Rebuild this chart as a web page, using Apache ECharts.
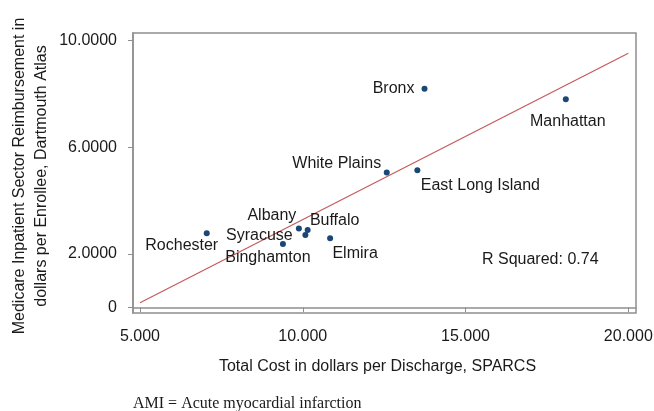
<!DOCTYPE html>
<html>
<head>
<meta charset="utf-8">
<script src="https://cdn.jsdelivr.net/npm/echarts@6/dist/echarts.min.js"></script>
<style>
  html, body { margin: 0; padding: 0; background: #fff; }
  #chart { width: 654px; height: 411px; }
</style>
</head>
<body>
<div id="chart"></div>
<script>
// hospital referral regions, cost per discharge vs reimbursement per enrollee (dollars)
var regions = ['Rochester', 'Albany', 'Buffalo', 'Syracuse', 'Binghamton', 'Elmira',
  'White Plains', 'East Long Island', 'Bronx', 'Manhattan']
var costPerDischarge = [7050, 9880, 10150, 10080, 9390, 10840, 12580, 13520, 13740, 18080]
var reimbursement = [2780, 2960, 2900, 2710, 2370, 2590, 5060, 5140, 8200, 7800]

// fitted regression line end points
var fitX = [5000, 20000]
var fitY = [170, 9530]

var xTicks = [5000, 10000, 15000, 20000]
var yTicks = [0, 2000, 6000, 10000]

// label offset from each dot (label centre - dot centre, px)
var labelOffset = {
  'Rochester': [-25, 12],
  'Albany': [-27, -13],
  'Buffalo': [27, -9],
  'Syracuse': [-46, 1],
  'Binghamton': [-15, 13],
  'Elmira': [25, 15],
  'White Plains': [-50, -9],
  'East Long Island': [63, 15],
  'Bronx': [-31, 0],
  'Manhattan': [2, 22]
}

var font = 'Liberation Sans, Arial, sans-serif'
var textColor = '#1a1a1a'
var frameColor = '#8f8f8f'

var points = regions.map(function (name, i) {
  return { name: name, value: [costPerDischarge[i], reimbursement[i]] }
})

var fitLine = fitX.map(function (x, i) {
  return [x, fitY[i]]
})

var chart = echarts.init(document.getElementById('chart'), null, { renderer: 'canvas' })

chart.setOption({
  animation: false,
  backgroundColor: '#fff',
  textStyle: { fontFamily: font },
  grid: {
    left: 133,
    top: 33,
    right: 18,
    bottom: 98,
    outerBoundsMode: 'none',
    show: true,
    borderColor: frameColor,
    borderWidth: 1.5,
    backgroundColor: 'transparent'
  },
  xAxis: {
    type: 'value',
    min: 4785,
    max: 20236,
    name: 'Total Cost in dollars per Discharge, SPARCS',
    nameLocation: 'middle',
    nameGap: 46,
    nameTextStyle: { fontSize: 16, color: textColor, fontFamily: font, padding: [0, 14, 0, 0] },
    axisLine: { show: true, lineStyle: { color: frameColor, width: 1.5 } },
    axisTick: { show: true, length: 5, customValues: xTicks, lineStyle: { color: frameColor } },
    axisLabel: {
      customValues: xTicks,
      margin: 16,
      fontSize: 16,
      color: textColor,
      fontFamily: font,
      formatter: function (v) { return (v / 1000).toFixed(3) }
    },
    splitLine: { show: false }
  },
  yAxis: {
    type: 'value',
    min: -214,
    max: 10290,
    axisLine: { show: true, lineStyle: { color: frameColor, width: 1.5 } },
    axisTick: { show: true, length: 5, customValues: yTicks, lineStyle: { color: frameColor } },
    axisLabel: {
      customValues: yTicks,
      margin: 16,
      fontSize: 16,
      color: textColor,
      fontFamily: font,
      formatter: function (v) { return v === 0 ? '0' : (v / 1000).toFixed(4) }
    },
    splitLine: { show: false }
  },
  series: [
    {
      type: 'line',
      data: fitLine,
      showSymbol: false,
      silent: true,
      lineStyle: { color: '#c55a5c', width: 1.2 },
      z: 1
    },
    {
      type: 'scatter',
      data: points,
      symbolSize: 6,
      itemStyle: { color: '#1b4774', opacity: 1 },
      label: {
        show: true,
        position: 'inside',
        align: 'center',
        verticalAlign: 'middle',
        fontSize: 16,
        color: textColor,
        fontFamily: font,
        formatter: '{b}'
      },
      labelLayout: function (params) {
        var off = labelOffset[regions[params.dataIndex]]
        return { dx: off[0], dy: off[1], hideOverlap: false }
      },
      z: 3
    }
  ],
  graphic: [
    {
      // y axis title, drawn by hand so it sits where the original does
      type: 'text',
      x: 31,
      y: 176,
      rotation: Math.PI / 2,
      style: {
        text: 'Medicare Inpatient Sector Reimbursement in\ndollars per Enrollee, Dartmouth Atlas',
        font: '16px ' + font,
        lineHeight: 22,
        align: 'center',
        verticalAlign: 'middle',
        fill: textColor
      }
    },
    {
      type: 'text',
      left: 482,
      top: 252,
      style: { text: 'R Squared: 0.74', font: '16px ' + font, fill: textColor }
    },
    {
      type: 'text',
      left: 133,
      top: 396,
      style: { text: 'AMI = Acute myocardial infarction', font: '16px Liberation Serif, Times New Roman, serif', fill: textColor }
    }
  ]
})
</script>
</body>
</html>
